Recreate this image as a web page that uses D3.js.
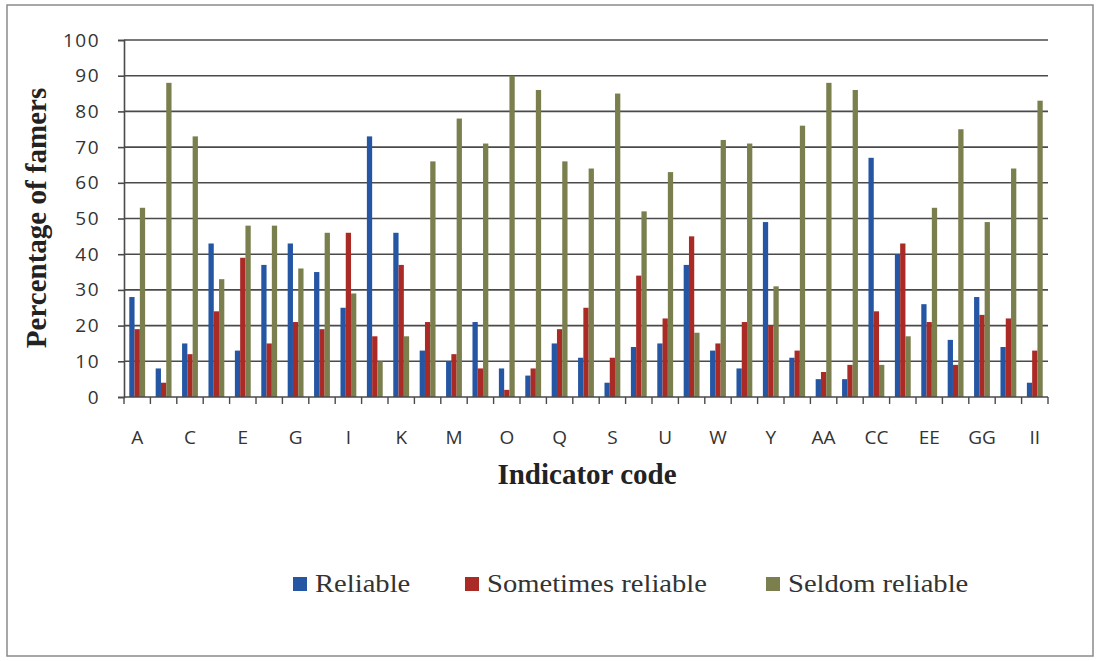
<!DOCTYPE html>
<html>
<head>
<meta charset="utf-8">
<script src="https://cdn.jsdelivr.net/npm/d3@7"></script>
<style>
  html, body { margin: 0; padding: 0; background: #fff; }
  svg { display: block; }
</style>
</head>
<body>
<svg id="chart" width="1097" height="661"></svg>
<script>
// Indicator codes A..Z then AA..II
const categories = ["A","B","C","D","E","F","G","H","I","J","K","L","M","N","O","P","Q","R","S","T","U","V","W","X","Y","Z","AA","BB","CC","DD","EE","FF","GG","HH","II"];
const seriesNames = ["Reliable", "Sometimes reliable", "Seldom reliable"];
const reliable          = [28, 8,15,43,13,37,43,35,25,73,46,13,10,21, 8, 6,15,11, 4,14,15,37,13, 8,49,11, 5, 5,67,40,26,16,28,14, 4];
const sometimesReliable = [19, 4,12,24,39,15,21,19,46,17,37,21,12, 8, 2, 8,19,25,11,34,22,45,15,21,20,13, 7, 9,24,43,21, 9,23,22,13];
const seldomReliable    = [53,88,73,33,48,48,36,46,29,10,17,66,78,71,90,86,66,64,85,52,63,18,72,71,31,76,88,86, 9,17,53,75,49,64,83];
const yTicks = [0,10,20,30,40,50,60,70,80,90,100];
const shownLabels = ["A","C","E","G","I","K","M","O","Q","S","U","W","Y","AA","CC","EE","GG","II"];

const seriesValues = [reliable, sometimesReliable, seldomReliable];
const colors = ["#2456a4", "#aa2a26", "#7b7f4e"];

const svg = d3.select("#chart");
const plotLeft = 124, plotRight = 1048, plotTop = 40, plotBottom = 397;
const serif = "'Liberation Serif', 'Times New Roman', serif";

// outer frame
svg.append("rect")
  .attr("x", 7).attr("y", 5).attr("width", 1086).attr("height", 651)
  .attr("fill", "none").attr("stroke", "#8a8a8a").attr("stroke-width", 1.5);

const x = d3.scaleBand().domain(categories).range([plotLeft, plotRight]).paddingInner(0).paddingOuter(0);
const bw = x.bandwidth();
const xs = d3.scaleBand().domain(seriesNames).range([bw * 0.2, bw * 0.8]).padding(0);
const y = d3.scaleLinear().domain([0, 100]).range([plotBottom, plotTop]);

// horizontal gridlines
svg.append("g").selectAll("line").data(yTicks.filter(d => d > 0)).join("line")
  .attr("x1", plotLeft).attr("x2", plotRight)
  .attr("y1", d => y(d)).attr("y2", d => y(d))
  .attr("stroke", "#4a4a4a").attr("stroke-width", 1.6);

// bars
const rows = categories.map((c, i) => ({ cat: c, vals: seriesNames.map((s, j) => ({ s, j, v: seriesValues[j][i] })) }));
svg.append("g").selectAll("g").data(rows).join("g")
  .attr("transform", d => `translate(${x(d.cat)},0)`)
  .selectAll("rect").data(d => d.vals).join("rect")
  .attr("x", d => xs(d.s))
  .attr("width", xs.bandwidth())
  .attr("y", d => y(d.v))
  .attr("height", d => y(0) - y(d.v))
  .attr("fill", d => colors[d.j]);

// y axis
const yAxis = d3.axisLeft(y).tickValues(yTicks).tickSize(6).tickPadding(18);
const gy = svg.append("g").attr("transform", `translate(${plotLeft},0)`).call(yAxis);
gy.select(".domain").attr("stroke", "#4a4a4a").attr("stroke-width", 1.6);
gy.selectAll(".tick line").attr("stroke", "#4a4a4a").attr("stroke-width", 1.6);
gy.selectAll(".tick text")
  .attr("font-family", "'Open Sans', sans-serif").attr("font-size", 19)
  .attr("fill", "#333").attr("letter-spacing", 1.5);

// x axis: line plus ticks at category boundaries
const gx = svg.append("g");
gx.append("line").attr("x1", plotLeft).attr("x2", plotRight).attr("y1", plotBottom).attr("y2", plotBottom)
  .attr("stroke", "#4a4a4a").attr("stroke-width", 1.6);
const bounds = categories.map(c => x(c)).concat([x(categories[categories.length - 1]) + bw]);
gx.selectAll("line.tk").data(bounds).join("line").attr("class", "tk")
  .attr("x1", d => d).attr("x2", d => d).attr("y1", plotBottom).attr("y2", plotBottom + 7)
  .attr("stroke", "#4a4a4a").attr("stroke-width", 1.4);
gx.selectAll("text").data(shownLabels).join("text")
  .attr("x", d => x(d) + bw / 2).attr("y", 444)
  .attr("text-anchor", "middle")
  .attr("font-family", "'Open Sans', sans-serif").attr("font-size", 19)
  .attr("fill", "#333")
  .text(d => d);

// axis titles
svg.append("text")
  .attr("transform", "translate(46,218) rotate(-90)")
  .attr("text-anchor", "middle")
  .attr("font-family", serif)
  .attr("font-weight", "bold").attr("font-size", 29).attr("fill", "#222")
  .text("Percentage of famers");
svg.append("text")
  .attr("x", 587).attr("y", 484)
  .attr("text-anchor", "middle")
  .attr("font-family", serif)
  .attr("font-weight", "bold").attr("font-size", 29).attr("fill", "#222")
  .text("Indicator code");

// legend
const legendX = [293, 465, 766];
const lg = svg.append("g").selectAll("g").data(seriesNames).join("g")
  .attr("transform", (d, i) => `translate(${legendX[i]},584)`);
lg.append("rect").attr("x", 0).attr("y", -7).attr("width", 14).attr("height", 14)
  .attr("fill", (d, i) => colors[i]);
lg.append("text")
  .attr("transform", "translate(22,8) scale(1.1,1)")
  .attr("font-family", serif)
  .attr("font-size", 26).attr("fill", "#333")
  .text(d => d);
</script>
</body>
</html>
